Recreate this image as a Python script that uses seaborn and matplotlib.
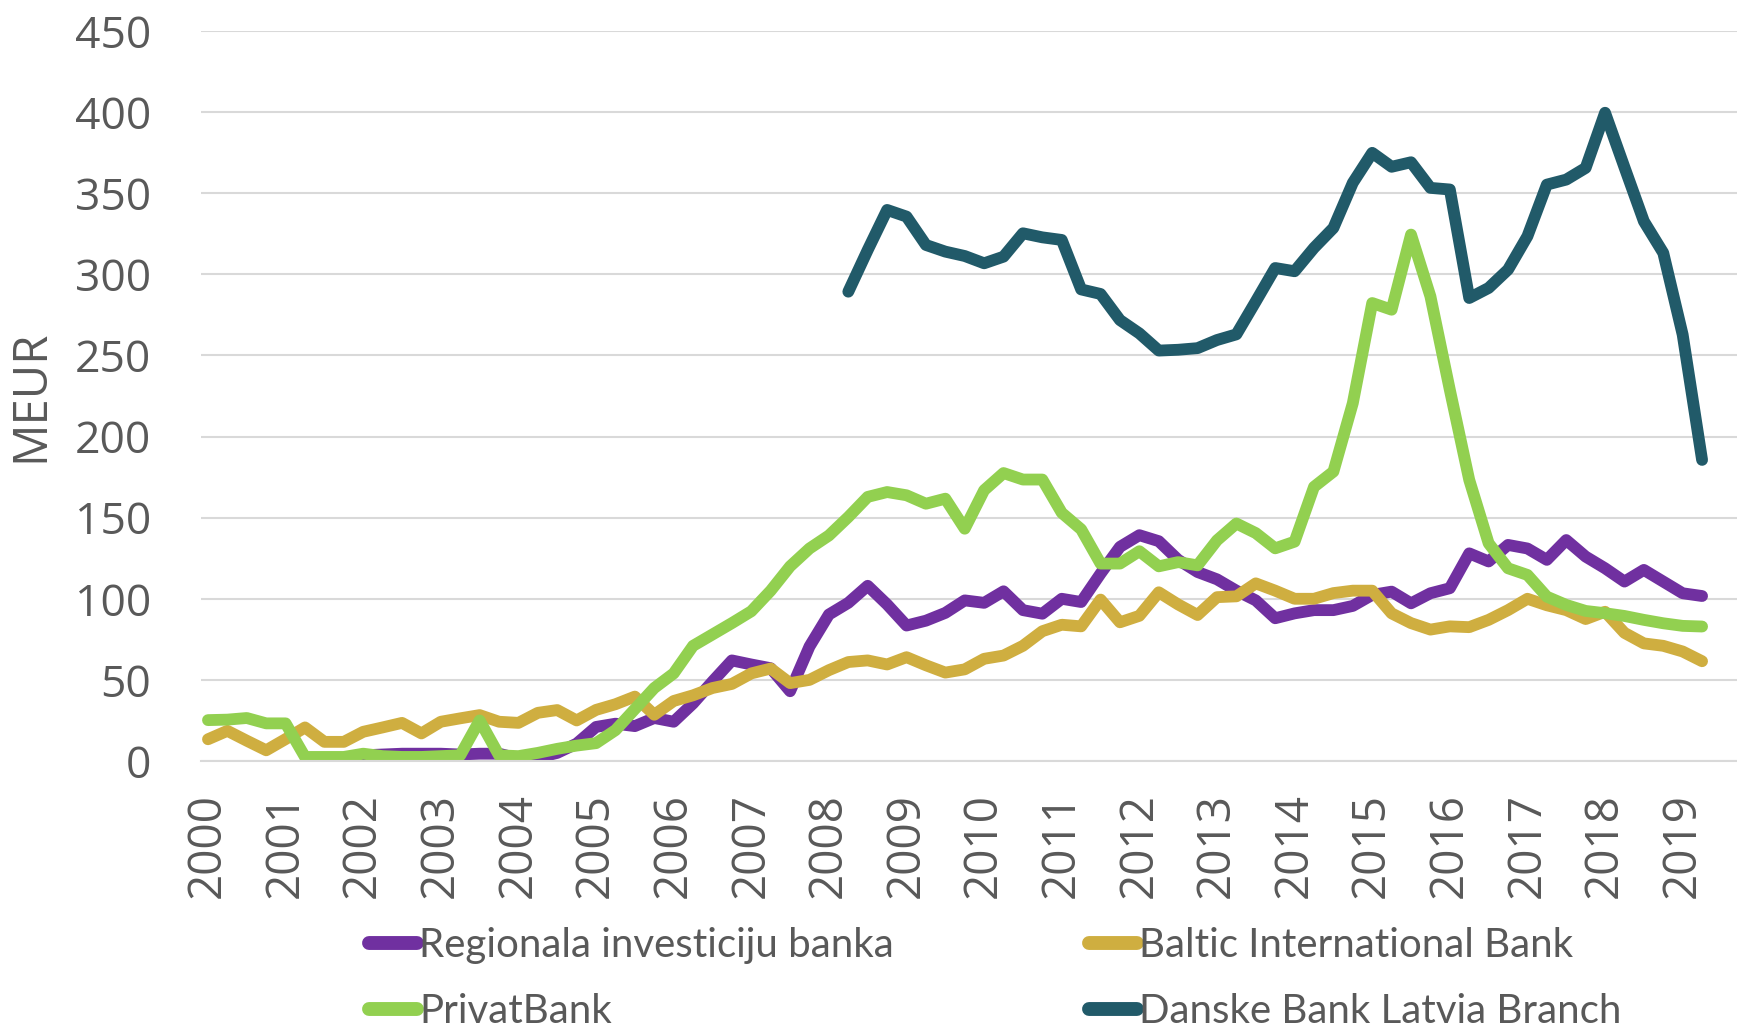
import numpy as np
import pandas as pd
import matplotlib
matplotlib.use("Agg")
import matplotlib.pyplot as plt
import seaborn as sns

# ---- data (quarterly, 2000Q1 .. 2019Q2) ----
years = list(range(2000, 2020))
quarters = [f"{y}Q{q}" for y in years for q in range(1, 5)][:78]

regionala = [np.nan] * 8 + [
    3.5, 4, 4.5, 4.5, 4.5, 4, 4.5, 4.5,
    1.5, 2, 5, 10.7, 21, 23, 21.5, 26.5,
    24.2, 35.5, 49, 62, 59.5, 57.2, 43, 70.6,
    90.3, 97.5, 108, 96.5, 83.5, 86.5, 91.3, 99,
    97.5, 104.6, 93, 90.8, 100, 98, 115.5, 132,
    139.2, 135.5, 124, 116.5, 112, 105, 99, 88,
    91, 93, 93, 95.6, 102.4, 104.4, 97.2, 103.4,
    106.5, 128, 123, 133.2, 131, 124, 136.2, 126,
    118.8, 110.6, 117.8, 110.6, 103.4, 101.7]

baltic = [
    13.4, 18.6, 12.5, 6.6, 13.5, 20.7, 11.8, 11.8,
    18, 20.7, 23.5, 17, 24.2, 26.3, 28.3, 24.2,
    23.5, 29.7, 31.4, 25, 31.5, 35, 39.7, 28.5,
    37, 40.5, 45, 47.5, 54, 57, 48, 50,
    56, 61, 62, 59.5, 64, 59, 54.5, 56.5,
    63, 65, 71, 80, 84, 83, 99.5, 85.5,
    89.5, 104, 96.5, 90, 101, 101.5, 109.5, 105,
    100, 100, 103.5, 105, 105, 91, 85, 81,
    83, 82.5, 87, 93, 100, 96, 93, 87.5,
    92, 79, 72.5, 71, 67.5, 61.5]

privatbank = [
    25.2, 25.5, 26.5, 23.2, 23.2, 2.5, 2.5, 2.5,
    4.5, 3, 2.5, 2.5, 3, 3.5, 25, 3.5,
    3, 5, 7.5, 9.5, 11, 19, 32, 45,
    54, 71, 78, 85, 92.3, 105, 120, 131,
    139, 150.4, 162.8, 165.8, 163.8, 158.6, 161.7, 143.2,
    166.9, 177.5, 173.5, 173.5, 153, 142.8, 121.7, 121.7,
    129.3, 120, 122.6, 120.6, 136, 146.4, 140.5, 131.1,
    135.2, 169, 178.4, 220.6, 282.3, 278.2, 324.5, 286.4,
    228.8, 173.3, 134.2, 118.8, 114.7, 101.3, 96.2, 92.5,
    91.1, 89.4, 87, 84.9, 83.3, 82.9]

danske = [np.nan] * 33 + [
    289.3, 315, 339.7, 335.6, 318.1, 314, 311.3, 306.8,
    310.9, 325.3, 322.8, 321.2, 290.7, 287.9, 271.8, 263.6,
    253, 253.5, 254.5, 259.5, 263, 283.3, 303.9, 301.9,
    316.3, 328.6, 356.4, 374.9, 366.3, 369.1, 353.3, 352.3,
    285.4, 291.6, 302.9, 323.5, 355.3, 358.4, 365.6, 399.6,
    366, 332.7, 313.2, 262.8, 185.6]

series_names = ["Regionala investiciju banka", "Baltic International Bank",
                "PrivatBank", "Danske Bank Latvia Branch"]
series_values = [regionala, baltic, privatbank, danske]
colors = ["#7030A0", "#CFAE40", "#92D050", "#215A69"]

year_labels = [str(y) for y in years]
y_ticks = list(range(0, 451, 50))

# ---- long table ----
rows = []
for name, vals in zip(series_names, series_values):
    for i, v in enumerate(vals):
        rows.append({"idx": i, "quarter": quarters[i], "bank": name, "value": v})
df = pd.DataFrame(rows).dropna()

sns.set_theme(style="white")
plt.rcParams["font.family"] = ["Open Sans", "DejaVu Sans"]

TXT = "#595959"
fig = plt.figure(figsize=(17.37, 10.29), dpi=100)
ax = fig.add_axes([201 / 1737, 268 / 1029, 1 - 201 / 1737, 730 / 1029])

sns.lineplot(data=df, x="idx", y="value", hue="bank", hue_order=series_names,
             palette=colors, linewidth=8.5, ax=ax, legend=True,
             estimator=None, sort=True)
for ln in ax.lines:
    ln.set_solid_capstyle("round")
    ln.set_solid_joinstyle("round")

ax.set_ylim(0, 450)
ax.set_xlim(-0.36, 78.8)
ax.set_yticks(y_ticks)
ax.set_yticklabels([str(t) for t in y_ticks])
ax.set_xticks(list(range(0, 78, 4)))
ax.set_xticklabels(year_labels, rotation=90)
ax.tick_params(axis="y", length=0, pad=36, labelsize=32, labelcolor=TXT)
ax.tick_params(axis="x", length=0, pad=23, labelsize=33, labelcolor=TXT)
ax.yaxis.grid(True, color="#D9D9D9", linewidth=1.5)
ax.xaxis.grid(False)
for s in ["top", "right", "left"]:
    ax.spines[s].set_visible(False)
ax.spines["bottom"].set_color("#D9D9D9")
ax.spines["bottom"].set_linewidth(1.5)
ax.set_xlabel("")
ax.set_ylabel("MEUR", fontsize=34, color=TXT)
ax.yaxis.label.set_va("center")
ax.yaxis.set_label_coords(-0.111, 0.5)

# legend: two columns placed as in the reference
handles, labels = ax.get_legend_handles_labels()
ax.get_legend().remove()
hmap = dict(zip(labels, handles))
common = dict(frameon=False, handlelength=1.2, handletextpad=0.05,
              labelspacing=0.72, labelcolor=TXT, borderaxespad=0, borderpad=0,
              prop={"family": ["Lato", "DejaVu Sans"], "size": 29})
leg1 = fig.legend([hmap[series_names[0]], hmap[series_names[2]]],
                  [series_names[0], series_names[2]], loc="upper left",
                  bbox_to_anchor=(369 / 1737, 1 - 927 / 1029), **common)
leg2 = fig.legend([hmap[series_names[1]], hmap[series_names[3]]],
                  [series_names[1], series_names[3]], loc="upper left",
                  bbox_to_anchor=(1089 / 1737, 1 - 927 / 1029), **common)
for lg in (leg1, leg2):
    for h in lg.legend_handles:
        h.set_linewidth(10)
        h.set_solid_capstyle("round")

fig.savefig("out.png", dpi=100)
